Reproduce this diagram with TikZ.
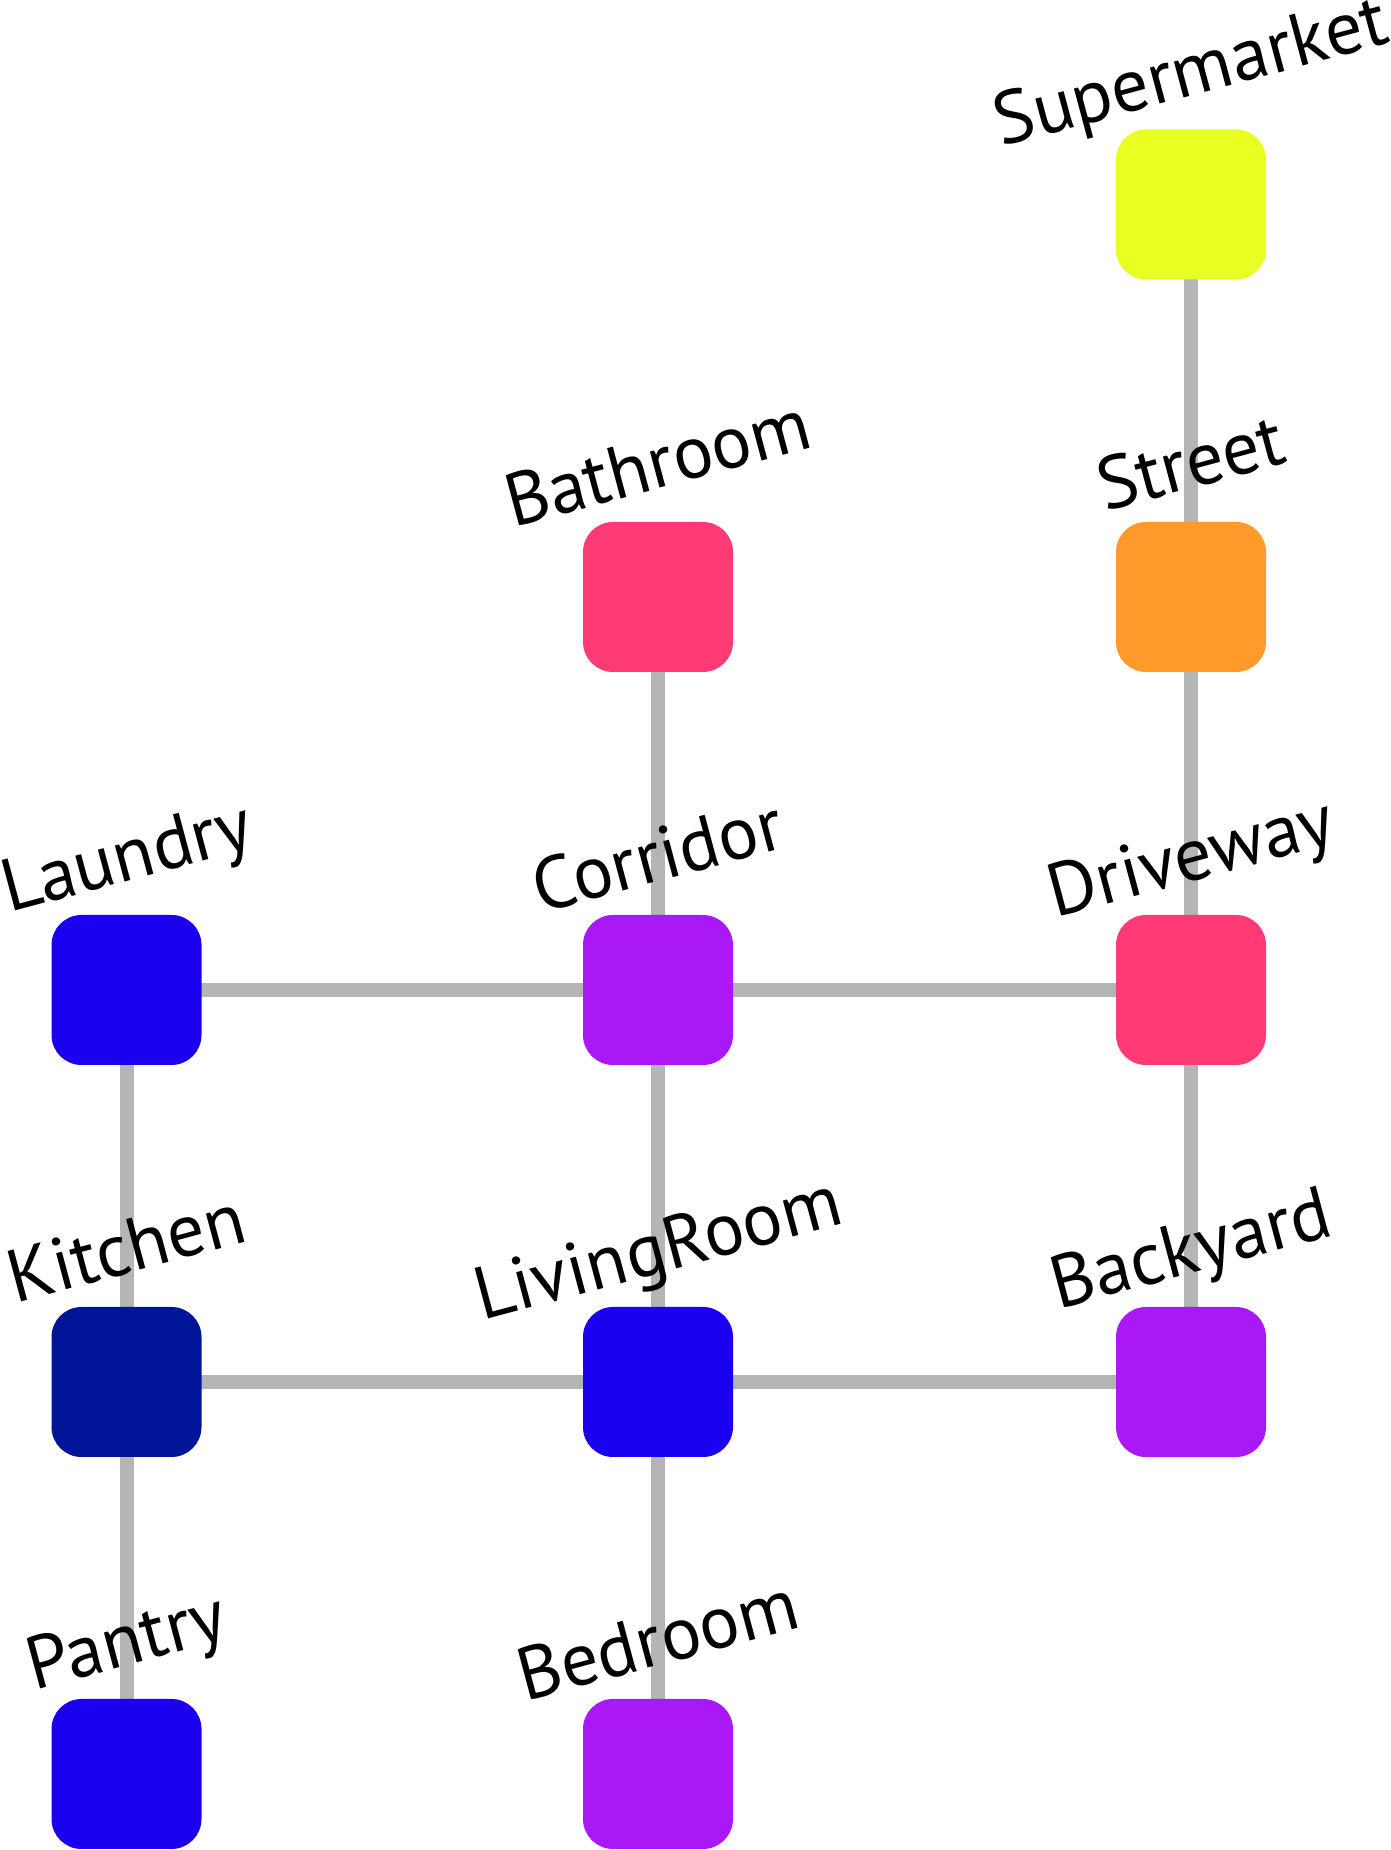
\documentclass[tikz,border=0pt]{standalone}
\usepackage{fontspec}
\setmainfont{PT Sans}
\usetikzlibrary{calc}
\definecolor{cYellow}{HTML}{E8FF22}
\definecolor{cOrange}{HTML}{FF9A2B}
\definecolor{cPink}{HTML}{FF3A74}
\definecolor{cPurple}{HTML}{AA18F6}
\definecolor{cBlue}{HTML}{1A00EF}
\definecolor{cNavy}{HTML}{001597}
\definecolor{cEdge}{HTML}{B4B5B7}
\tikzset{
  room/.style={minimum size=150pt, inner sep=0pt, rounded corners=30pt, draw=none, fill=#1},
  conn/.style={draw=cEdge, line width=14pt},
  lbl/.style={rotate=15, anchor=base, inner sep=0pt, font=\fontsize{74.5}{89}\selectfont, text=black}
}
\begin{document}
\begin{tikzpicture}[x=1pt,y=1pt]
\useasboundingbox (0,0) rectangle (1390,1850);
% coordinates of rooms
\coordinate (pSup) at (1191,1645.5);
\coordinate (pStr) at (1191,1253);
\coordinate (pBat) at (658,1253);
\coordinate (pLau) at (126.5,860);
\coordinate (pCor) at (658,860);
\coordinate (pDri) at (1191,860);
\coordinate (pKit) at (126.5,468);
\coordinate (pLiv) at (658,468);
\coordinate (pBac) at (1191,468);
\coordinate (pPan) at (126.5,76);
\coordinate (pBed) at (658,76);
% connectors
\draw[conn] (pSup) -- (pStr);
\draw[conn] (pStr) -- (pDri);
\draw[conn] (pBat) -- (pCor);
\draw[conn] (pLau) -- (pCor);
\draw[conn] (pCor) -- (pDri);
\draw[conn] (pLau) -- (pKit);
\draw[conn] (pCor) -- (pLiv);
\draw[conn] (pDri) -- (pBac);
\draw[conn] (pKit) -- (pLiv);
\draw[conn] (pLiv) -- (pBac);
\draw[conn] (pKit) -- (pPan);
\draw[conn] (pLiv) -- (pBed);
% rooms
\node[room=cYellow] (sup) at (pSup) {};
\node[room=cOrange] (str) at (pStr) {};
\node[room=cPink] (bat) at (pBat) {};
\node[room=cBlue] (lau) at (pLau) {};
\node[room=cPurple] (cor) at (pCor) {};
\node[room=cPink] (dri) at (pDri) {};
\node[room=cNavy] (kit) at (pKit) {};
\node[room=cBlue] (liv) at (pLiv) {};
\node[room=cPurple] (bac) at (pBac) {};
\node[room=cBlue] (pan) at (pPan) {};
\node[room=cPurple] (bed) at (pBed) {};
% labels
\node[lbl] (lsup) at ($(sup)+(6,110)$) {Supermarket};
\node[lbl] (lstr) at ($(str)+(6,110)$) {Street};
\node[lbl] (lbat) at ($(bat)+(6,110)$) {Bathroom};
\node[lbl] (llau) at ($(lau)+(6,110)$) {Laundry};
\node[lbl] (lcor) at ($(cor)+(6,110)$) {Corridor};
\node[lbl] (ldri) at ($(dri)+(6,110)$) {Driveway};
\node[lbl] (lkit) at ($(kit)+(6,110)$) {Kitchen};
\node[lbl] (lliv) at ($(liv)+(6,110)$) {LivingRoom};
\node[lbl] (lbac) at ($(bac)+(6,110)$) {Backyard};
\node[lbl] (lpan) at ($(pan)+(6,110)$) {Pantry};
\node[lbl] (lbed) at ($(bed)+(6,110)$) {Bedroom};
\end{tikzpicture}
\end{document}
